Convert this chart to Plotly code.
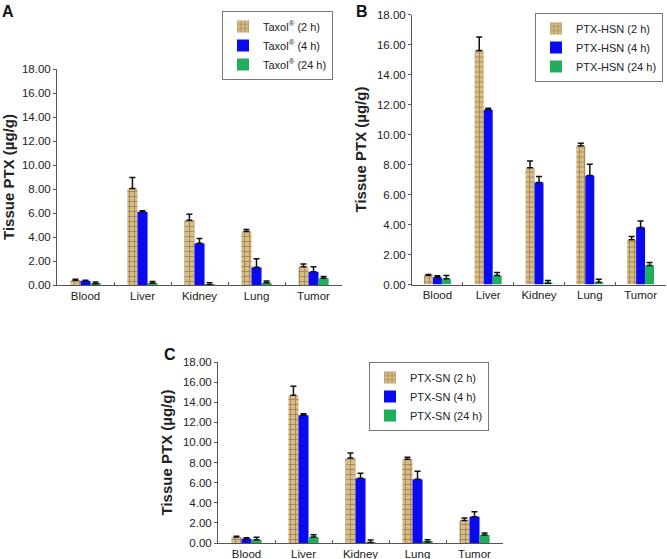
import plotly.graph_objects as go

# Tissue distribution of PTX at 2, 4 and 24 h for three formulations
tissues = ['Blood', 'Liver', 'Kidney', 'Lung', 'Tumor']
y_ticks = [0, 2, 4, 6, 8, 10, 12, 14, 16, 18]

# A - Taxol
taxol_2h = [0.40, 8.05, 5.40, 4.45, 1.53]
taxol_2h_err = [0.08, 0.90, 0.50, 0.18, 0.22]
taxol_4h = [0.35, 6.10, 3.47, 1.47, 1.10]
taxol_4h_err = [0.05, 0.08, 0.40, 0.72, 0.42]
taxol_24h = [0.10, 0.15, 0.02, 0.18, 0.56]
taxol_24h_err = [0.15, 0.15, 0.16, 0.15, 0.15]

# B - PTX-HSN
hsn_2h = [0.62, 15.60, 7.78, 9.25, 2.98]
hsn_2h_err = [0.05, 0.90, 0.45, 0.16, 0.22]
hsn_4h = [0.48, 11.65, 6.80, 7.27, 3.80]
hsn_4h_err = [0.10, 0.10, 0.40, 0.75, 0.44]
hsn_24h = [0.38, 0.60, 0.08, 0.15, 1.26]
hsn_24h_err = [0.22, 0.20, 0.18, 0.20, 0.20]

# C - PTX-SN
sn_2h = [0.60, 14.70, 8.45, 8.32, 2.25]
sn_2h_err = [0.08, 0.90, 0.50, 0.20, 0.23]
sn_4h = [0.43, 12.70, 6.43, 6.33, 2.62]
sn_4h_err = [0.08, 0.15, 0.50, 0.80, 0.50]
sn_24h = [0.33, 0.60, 0.05, 0.10, 0.80]
sn_24h_err = [0.25, 0.22, 0.25, 0.22, 0.20]

W, H = 667, 559
def px_x(p):
    return p / W
def px_y(p):
    return 1 - p / H

tan = '#d8bd86'
brown = '#5e4420'
blue = '#0a0aee'
green = '#1fae5c'
err_style = dict(type='data', symmetric=False, thickness=1.5, width=3, color='#111111')

panels = [
    ('', 'Taxol<sup>®</sup>', [taxol_2h, taxol_4h, taxol_24h],
     [taxol_2h_err, taxol_4h_err, taxol_24h_err], 'legend'),
    ('2', 'PTX-HSN', [hsn_2h, hsn_4h, hsn_24h],
     [hsn_2h_err, hsn_4h_err, hsn_24h_err], 'legend2'),
    ('3', 'PTX-SN', [sn_2h, sn_4h, sn_24h],
     [sn_2h_err, sn_4h_err, sn_24h_err], 'legend3'),
]

fig = go.Figure()
for ax, name, series, errs, leg in panels:
    for i, (label, vals, err) in enumerate(zip(['2 h', '4 h', '24 h'], series, errs)):
        if i == 0:
            marker = dict(color=tan, line=dict(width=0),
                          pattern=dict(shape='+', fgcolor=brown, bgcolor=tan,
                                       size=5, solidity=0.3))
        else:
            marker = dict(color=blue if i == 1 else green, line=dict(width=0))
        fig.add_trace(go.Bar(
            x=tissues, y=vals, name=f'{name} ({label})',
            marker=marker,
            error_y=dict(array=err, arrayminus=[0] * len(err), **err_style),
            xaxis='x' + ax, yaxis='y' + ax, legend=leg,
        ))

font = dict(family='Liberation Sans, Arial, sans-serif', size=11, color='#222222')

def xaxis(domain, anchor):
    return dict(domain=domain, anchor=anchor, type='category', automargin=False,
                showline=True, linecolor='#555555', linewidth=1,
                ticks='inside', tickson='boundaries', ticklen=3,
                tickcolor='#555555', tickfont=dict(size=11.5), fixedrange=True)

def yaxis(domain, anchor):
    return dict(domain=domain, anchor=anchor, range=[0, 18], automargin=False,
                tickvals=y_ticks, ticktext=[f'{v:.2f}' for v in y_ticks],
                showline=True, linecolor='#555555', linewidth=1,
                ticks='outside', ticklen=3, tickcolor='#555555',
                showgrid=False, zeroline=False, tickfont=dict(size=11.5),
                title=dict(text='<b>Tissue PTX (µg/g)</b>', font=dict(size=15),
                           standoff=6))

legend_style = dict(bgcolor='white', bordercolor='#777777', borderwidth=1,
                    font=dict(size=11), yanchor='top',
                    itemsizing='constant', itemwidth=30, tracegroupgap=0)

fig.update_layout(
    width=W, height=H,
    margin=dict(l=0, r=0, t=0, b=0),
    paper_bgcolor='white', plot_bgcolor='white',
    font=font,
    barmode='group', bargap=0.47, bargroupgap=0,
    xaxis=xaxis([px_x(57), px_x(342)], 'y'),
    yaxis=yaxis([px_y(285), px_y(69)], 'x'),
    xaxis2=xaxis([px_x(412), px_x(666)], 'y2'),
    yaxis2=yaxis([px_y(284.5), px_y(14.5)], 'x2'),
    xaxis3=xaxis([px_x(218), px_x(503)], 'y3'),
    yaxis3=yaxis([px_y(543), px_y(362)], 'x3'),
    legend=dict(x=px_x(333), y=px_y(11), xanchor='right', **legend_style),
    legend2=dict(x=px_x(663), y=px_y(13), xanchor='right', **legend_style),
    legend3=dict(x=px_x(489), y=px_y(362), xanchor='right', **legend_style),
    showlegend=True,
)

for letter, x, y in [('A', 8, 11), ('B', 362, 11), ('C', 170, 354)]:
    fig.add_annotation(text=f'<b>{letter}</b>', x=px_x(x), y=px_y(y),
                       xref='paper', yref='paper', showarrow=False,
                       xanchor='center', yanchor='middle',
                       font=dict(size=16, color='#111111'))

# drop the default page margin so the figure sits at the window's corner
fig.write_html('out.html', config={'displayModeBar': False},
               post_script="document.body.style.margin='0';")
